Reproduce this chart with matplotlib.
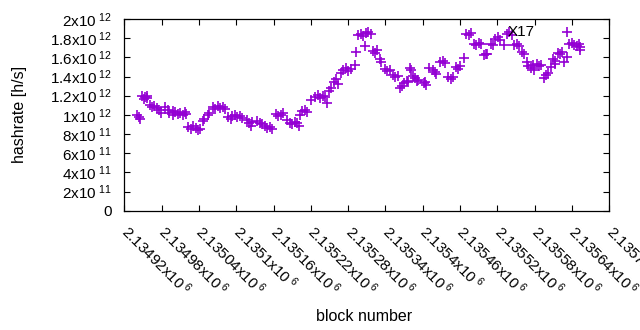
import matplotlib
matplotlib.use("Agg")
import matplotlib.pyplot as plt

plt.rcParams['font.family'] = ['Liberation Sans', 'DejaVu Sans']
plt.rcParams['mathtext.fontset'] = 'custom'
plt.rcParams['mathtext.rm'] = 'Liberation Sans'
plt.rcParams['mathtext.default'] = 'regular'

# block numbers and hashrate (in units of 1e12 h/s)
blocks = [
    2134940, 2134943, 2134945,
    2134949, 2134953, 2134957, 2134951, 2134956,
    2134961, 2134965, 2134968,
    2134972, 2134976, 2134979, 2134985,
    2134990, 2134992, 2134998, 2134998,
    2135002, 2135006, 2135010, 2135014, 2135018, 2135020,
    2135023, 2135027, 2135031, 2135035, 2135039, 2135042,
    2135046, 2135048, 2135055, 2135056,
    2135062, 2135066, 2135070, 2135074, 2135078, 2135082,
    2135087, 2135091, 2135093,
    2135098, 2135102, 2135106, 2135109,
    2135118, 2135121, 2135124, 2135126,
    2135134, 2135138, 2135142,
    2135146, 2135150, 2135154, 2135157,
    2135164, 2135168, 2135172, 2135175,
    2135182, 2135186, 2135190, 2135194, 2135198, 2135201,
    2135203, 2135206, 2135210, 2135214,
    2135220, 2135227, 2135231, 2135235, 2135239, 2135243, 2135246,
    2135250, 2135253, 2135257, 2135260, 2135263,
    2135269, 2135272, 2135276, 2135280, 2135284, 2135291,
    2135292,
    2135296, 2135300, 2135304, 2135308, 2135312, 2135316,
    2135307,
    2135320, 2135324, 2135327,
    2135331, 2135333,
    2135339, 2135343, 2135347,
    2135352, 2135356, 2135360,
    2135364, 2135367, 2135370, 2135374, 2135376,
    2135379, 2135381,
    2135385, 2135388, 2135391, 2135393, 2135403,
    2135402, 2135405,
    2135410, 2135416, 2135420, 2135422,
    2135428, 2135432, 2135436,
    2135441, 2135445, 2135449,
    2135453, 2135457, 2135460, 2135466,
    2135470, 2135474, 2135477,
    2135482, 2135486, 2135490, 2135494,
    2135498, 2135501, 2135504,
    2135510, 2135513,
    2135517, 2135521, 2135524, 2135531,
    2135536, 2135539, 2135543,
    2135547, 2135551, 2135555,
    2135560, 2135563,
    2135567, 2135570, 2135574, 2135578, 2135579,
    2135584, 2135587, 2135590,
    2135595, 2135599, 2135601,
    2135606, 2135610, 2135613,
    2135617, 2135621, 2135624, 2135613, 2135627, 2135632,
    2135632,
    2135636, 2135640, 2135644, 2135648, 2135651, 2135653, 2135653,
]
hashrate = [
    0.995, 0.975, 0.955,
    1.20, 1.19, 1.18, 1.17, 1.20,
    1.10, 1.08, 1.09,
    1.07, 1.05, 1.02, 1.08,
    1.05, 1.02, 1.00, 1.04,
    1.03, 1.01, 1.02, 1.00, 1.03, 1.01,
    0.87, 0.85, 0.88, 0.86, 0.84, 0.85,
    0.94, 0.96, 1.00, 1.02,
    1.08, 1.06, 1.09, 1.07, 1.08, 1.06,
    0.98, 0.96, 0.99,
    1.00, 0.98, 0.99, 0.97,
    0.95, 0.91, 0.88, 0.93,
    0.94, 0.92, 0.90,
    0.88, 0.86, 0.87, 0.85,
    1.01, 0.99, 1.00, 1.02,
    0.95, 0.92, 0.90, 0.93, 0.91, 0.88,
    1.00, 1.04, 1.05, 1.03,
    1.155, 1.19, 1.21, 1.18, 1.20, 1.19, 1.12,
    1.25, 1.28, 1.34, 1.37, 1.32,
    1.44, 1.47, 1.49, 1.46, 1.48, 1.52,
    1.656,
    1.83, 1.84, 1.82, 1.85, 1.86, 1.84,
    1.718,
    1.67, 1.65, 1.68,
    1.58, 1.55,
    1.48, 1.46, 1.47,
    1.42, 1.40, 1.41,
    1.28, 1.30, 1.33, 1.35, 1.34,
    1.49, 1.47,
    1.41, 1.38, 1.35, 1.36, 1.34,
    1.33, 1.31,
    1.49, 1.47, 1.45, 1.43,
    1.55, 1.56, 1.54,
    1.39, 1.37, 1.40,
    1.50, 1.48, 1.51, 1.59,
    1.84, 1.83, 1.85,
    1.74, 1.73, 1.75, 1.74,
    1.62, 1.64, 1.63,
    1.74, 1.73,
    1.79, 1.81, 1.78, 1.73,
    1.84, 1.86, 1.83,
    1.73, 1.74, 1.72,
    1.66, 1.64,
    1.55, 1.51, 1.49, 1.52, 1.47,
    1.53, 1.51, 1.52,
    1.38, 1.42, 1.44,
    1.50, 1.58, 1.56,
    1.65, 1.63, 1.66, 1.53, 1.55, 1.60,
    1.864,
    1.74, 1.75, 1.73, 1.72, 1.74, 1.71, 1.68,
]

xticks = [2134920, 2134980, 2135040, 2135100, 2135160, 2135220, 2135280,
          2135340, 2135400, 2135460, 2135520, 2135580, 2135640, 2135700]
yticks = [0, 2e11, 4e11, 6e11, 8e11, 1e12, 1.2e12, 1.4e12, 1.6e12, 1.8e12, 2e12]

label_block = 2135536
label_value = 1.864e12
label_text = "X17"


def gp_label(v):
    # gnuplot-like "mantissa x10^exp"
    if v == 0:
        return "0"
    exp = len(str(int(abs(v)))) - 1
    mant = v / 10 ** exp
    return "%gx10\u2009$^{%d}$" % (round(mant, 6), exp)


fig = plt.figure(figsize=(6.4, 3.3), dpi=100)
ax = fig.add_axes([0.1942, 0.3615, 0.7578, 0.5809])

ax.plot(blocks, [h * 1e12 for h in hashrate], linestyle='none', marker='+',
        markersize=7, markeredgewidth=1.2, color='#9400d3')

ax.text(label_block, label_value, label_text, ha='left', va='center', fontsize=11)

ax.set_xlim(2134920, 2135700)
ax.set_ylim(0, 2e12)

ax.set_yticks(yticks, [gp_label(v) for v in yticks])
ax.set_xticks(xticks, [gp_label(v) for v in xticks])
for lab in ax.get_xticklabels():
    lab.set_rotation(-45)
    lab.set_rotation_mode('anchor')
    lab.set_ha('left')
    lab.set_va('center')

ax.tick_params(axis='both', direction='in', length=4, width=0.8,
               top=True, right=True, labelsize=11)
ax.tick_params(axis='x', pad=12.5)
ax.tick_params(axis='y', pad=9)
for sp in ax.spines.values():
    sp.set_linewidth(0.9)

ax.set_xlabel("block number", fontsize=11.5)
ax.set_ylabel("hashrate [h/s]", fontsize=11.5)
ax.xaxis.set_label_coords(0.494, -0.513)
ax.yaxis.set_label_coords(-0.200, 0.5)

fig.savefig("out.png", dpi=100)
